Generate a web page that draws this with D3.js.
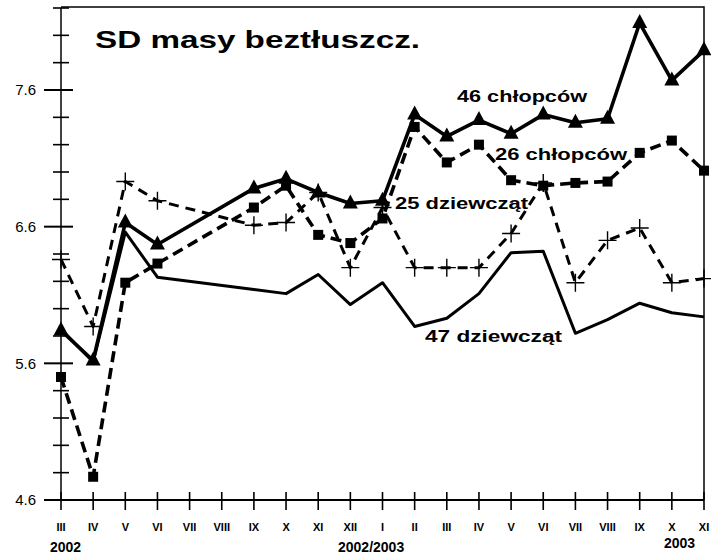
<!DOCTYPE html>
<html lang="pl">
<head>
  <meta charset="UTF-8">
  <title>SD masy beztłuszcz.</title>
  <script type="text/javascript" src="https://d3js.org/d3.v7.min.js"></script>
  <style>
    body{ margin:0; background:#fff; }
    text{ font-family:"Liberation Sans", Arial, sans-serif; fill:#000; }
    .roman{ font-family:"Liberation Sans Narrow", "Liberation Sans", sans-serif; font-weight:bold; font-size:11px; }
    .year{ font-weight:bold; font-size:14px; }
    .lbl{ font-weight:bold; font-size:16px; }
  </style>
</head>
<body>
  <svg></svg>
  <script type="text/javascript">

  var W = 711,
    H = 558;

  // miesiące III 2002 .. XI 2003
  var months = ["III","IV","V","VI","VII","VIII","IX","X","XI","XII","I",
    "II","III","IV","V","VI","VII","VIII","IX","X","XI"];
  var yTicks = [4.6, 5.6, 6.6, 7.6];

  var chlopcy46 = [5.84, 5.62, 6.63, 6.47, null, null, 6.88, 6.95, 6.85, 6.77, 6.79,
    7.42, 7.26, 7.38, 7.28, 7.42, 7.36, 7.39, 8.09, 7.67, 7.89];
  var chlopcy26 = [5.50, 4.77, 6.19, 6.33, null, null, 6.74, 6.90, 6.54, 6.48, 6.66,
    7.33, 7.07, 7.20, 6.94, 6.90, 6.92, 6.93, 7.14, 7.23, 7.01];
  var dziewczeta25 = [6.36, 5.87, 6.93, 6.79, null, null, 6.61, 6.63, 6.85, 6.30, 6.74,
    6.30, 6.30, 6.30, 6.55, 6.92, 6.19, 6.50, 6.59, 6.19, 6.22];
  var dziewczeta47 = [5.85, 5.61, 6.56, 6.23, null, null, 6.14, 6.11, 6.25, 6.03, 6.19,
    5.87, 5.93, 6.11, 6.41, 6.42, 5.82, 5.92, 6.04, 5.97, 5.94];

  var SVG = d3.select("svg").attr("width", W).attr("height", H),
    g = SVG.append("g");

  var x = d3.scaleLinear().domain([0, months.length - 1]).range([61, 704]),
    y = d3.scaleLinear().domain([4.6, 8.2]).range([500, 8]);

  // ramka: góra i prawa strona
  g.append("path")
    .attr("d", "M" + x(0) + "," + (y(8.2) - 1) + " L" + x(20) + "," + (y(8.2) - 1) + " L" + x(20) + "," + y(4.6))
    .attr("fill", "none").attr("stroke", "#000").attr("stroke-width", 1.5);

  // oś Y
  var minor = d3.range(4.6, 8.21, 0.2).map(function(v){ return +v.toFixed(1); });
  g.append("line").attr("x1", x(0)).attr("x2", x(0)).attr("y1", y(8.2)).attr("y2", y(4.6))
    .attr("stroke", "#000").attr("stroke-width", 1.5);
  g.selectAll("line.ytick").data(minor).enter().append("line")
    .attr("class", "ytick")
    .attr("x1", function(d){ return yTicks.indexOf(d) >= 0 ? x(0) - 17 : x(0) - 8; })
    .attr("x2", function(d){ return yTicks.indexOf(d) >= 0 ? x(0) + 12 : x(0) + 8; })
    .attr("y1", function(d){ return y(d); })
    .attr("y2", function(d){ return y(d); })
    .attr("stroke", "#000")
    .attr("stroke-width", function(d){ return yTicks.indexOf(d) >= 0 ? 2 : 1.6; });
  g.selectAll("text.ylab").data(yTicks).enter().append("text")
    .attr("class", "ylab")
    .attr("x", 36).attr("y", function(d){ return y(d); })
    .attr("dy", ".35em").attr("text-anchor", "end")
    .attr("font-size", "15px")
    .text(function(d){ return d.toFixed(1); });

  // oś X
  g.append("line").attr("x1", x(0)).attr("x2", x(20)).attr("y1", y(4.6)).attr("y2", y(4.6))
    .attr("stroke", "#000").attr("stroke-width", 2);
  g.selectAll("line.xtick").data(months).enter().append("line")
    .attr("class", "xtick")
    .attr("x1", function(d, i){ return x(i); })
    .attr("x2", function(d, i){ return x(i); })
    .attr("y1", y(4.6) - 8).attr("y2", y(4.6) + 10)
    .attr("stroke", "#000").attr("stroke-width", 1.6);
  g.selectAll("text.roman").data(months).enter().append("text")
    .attr("class", "roman")
    .attr("x", function(d, i){ return x(i); })
    .attr("y", 531).attr("text-anchor", "middle")
    .text(function(d){ return d; });

  g.append("text").attr("class", "year").attr("x", 50).attr("y", 552).text("2002");
  g.append("text").attr("class", "year").attr("x", 338).attr("y", 552).text("2002/2003");
  g.append("text").attr("class", "year").attr("x", 664).attr("y", 548).text("2003");

  // serie
  function drawLine(data, width, dash){
    var pts = data.map(function(v, i){ return [i, v]; }).filter(function(d){ return d[1] != null; });
    var line = d3.line().x(function(d){ return x(d[0]); }).y(function(d){ return y(d[1]); });
    g.append("path").datum(pts)
      .attr("d", line)
      .attr("fill", "none").attr("stroke", "#000")
      .attr("stroke-width", width)
      .attr("stroke-linejoin", "round")
      .attr("stroke-dasharray", dash);
    return pts;
  }

  drawLine(dziewczeta47, 3, null);

  var p25 = drawLine(dziewczeta25, 3, "10,7");
  g.selectAll("path.plus").data(p25).enter().append("path")
    .attr("class", "plus")
    .attr("d", function(d){
      var cx = x(d[0]), cy = y(d[1]);
      return "M" + (cx - 9) + "," + cy + " L" + (cx + 9) + "," + cy + " M" + cx + "," + (cy - 9) + " L" + cx + "," + (cy + 9);
    })
    .attr("stroke", "#000").attr("stroke-width", 1.4);

  var p26 = drawLine(chlopcy26, 3.6, "11,6");
  g.selectAll("rect.sq").data(p26).enter().append("rect")
    .attr("class", "sq")
    .attr("x", function(d){ return x(d[0]) - 5; })
    .attr("y", function(d){ return y(d[1]) - 5; })
    .attr("width", 10).attr("height", 10)
    .attr("fill", "#000");

  var p46 = drawLine(chlopcy46, 3.6, null);
  g.selectAll("path.tri").data(p46).enter().append("path")
    .attr("class", "tri")
    .attr("d", function(d){
      var cx = x(d[0]), cy = y(d[1]);
      return "M" + cx + "," + (cy - 9) + " L" + (cx + 7.5) + "," + (cy + 5) + " L" + (cx - 7.5) + "," + (cy + 5) + "Z";
    })
    .attr("fill", "#000");

  // tytuł i opisy serii
  g.append("text").attr("x", 95).attr("y", 48)
    .attr("font-size", "23px").attr("font-weight", "bold")
    .attr("textLength", 325).attr("lengthAdjust", "spacingAndGlyphs")
    .text("SD masy beztłuszcz.");

  var labels = [
    {t: "46 chłopców", x: 457, y: 102, w: 130},
    {t: "26 chłopców", x: 495, y: 160, w: 132},
    {t: "25 dziewcząt", x: 395, y: 209, w: 133},
    {t: "47 dziewcząt", x: 425, y: 342, w: 137}
  ];
  g.selectAll("text.lbl").data(labels).enter().append("text")
    .attr("class", "lbl")
    .attr("x", function(d){ return d.x; })
    .attr("y", function(d){ return d.y; })
    .attr("textLength", function(d){ return d.w; })
    .attr("lengthAdjust", "spacingAndGlyphs")
    .text(function(d){ return d.t; });

  </script>
</body>
</html>
